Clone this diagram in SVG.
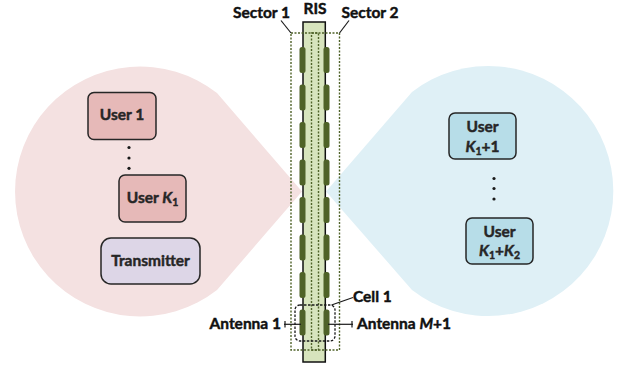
<svg xmlns="http://www.w3.org/2000/svg" width="621" height="366" viewBox="0 0 621 366">
<style>
  text { font-family: "Lato", "Open Sans", "Liberation Sans", sans-serif; font-weight: bold; font-size: 15.5px; fill: #111; stroke: #111; stroke-width: 0.45; }
  .box text { fill: #262626; stroke: #262626; text-anchor: middle; }
  .sub { font-size: 10.5px; }
  .it { font-style: italic; }
  .ubox { stroke: #262626; stroke-width: 1.5; }
  .sector { fill: none; stroke: #4f6228; stroke-width: 1.4; stroke-dasharray: 2 1.5; }
  .cell { fill: none; stroke: #1a1a1a; stroke-width: 1.3; stroke-dasharray: 2.5 1.5; }
  .elem { fill: #4f6228; }
  .lead { stroke: #1a1a1a; stroke-width: 1.2; fill: none; }
  .dot { fill: #1a1a1a; }
</style>

<g id="sector1-region">
  <path d="M 217 93 A 125 125 0 1 0 217 290 L 302 191.5 Z" fill="#f4e1e1"/>
</g>
<g id="sector2-region">
  <path d="M 412 92 A 125 125 0 1 1 412 290 L 326 191.5 Z" fill="#dff0f6"/>
</g>

<g id="ris">
  <rect x="303" y="22" width="22.3" height="340" fill="#d7e4bd" stroke="#111" stroke-width="1.5"/>
  <g id="elements-left">
    <rect class="elem" x="299.5" y="47" width="6" height="26" rx="2.5"/>
    <rect class="elem" x="299.5" y="84.5" width="6" height="26" rx="2.5"/>
    <rect class="elem" x="299.5" y="122" width="6" height="26" rx="2.5"/>
    <rect class="elem" x="299.5" y="159.5" width="6" height="26" rx="2.5"/>
    <rect class="elem" x="299.5" y="197" width="6" height="26" rx="2.5"/>
    <rect class="elem" x="299.5" y="234.5" width="6" height="26" rx="2.5"/>
    <rect class="elem" x="299.5" y="272" width="6" height="26" rx="2.5"/>
    <rect class="elem" x="299.5" y="309.5" width="6" height="26" rx="2.5"/>
  </g>
  <g id="elements-right">
    <rect class="elem" x="323.5" y="47" width="6" height="26" rx="2.5"/>
    <rect class="elem" x="323.5" y="84.5" width="6" height="26" rx="2.5"/>
    <rect class="elem" x="323.5" y="122" width="6" height="26" rx="2.5"/>
    <rect class="elem" x="323.5" y="159.5" width="6" height="26" rx="2.5"/>
    <rect class="elem" x="323.5" y="197" width="6" height="26" rx="2.5"/>
    <rect class="elem" x="323.5" y="234.5" width="6" height="26" rx="2.5"/>
    <rect class="elem" x="323.5" y="272" width="6" height="26" rx="2.5"/>
    <rect class="elem" x="323.5" y="309.5" width="6" height="26" rx="2.5"/>
  </g>
  <text x="315" y="14" text-anchor="middle">RIS</text>
</g>

<g id="sector1">
  <rect class="sector" x="291" y="33" width="27.5" height="317"/>
  <text x="261.5" y="18" text-anchor="middle">Sector 1</text>
</g>
<g id="sector2">
  <rect class="sector" x="311.5" y="33" width="28" height="317"/>
  <text x="370" y="18" text-anchor="middle">Sector 2</text>
</g>

<g id="cell1">
  <rect class="cell" x="295" y="305" width="40" height="36" rx="5"/>
  <text x="353" y="301.5">Cell 1</text>
</g>

<g id="antenna1">
  <text x="281" y="329" text-anchor="end">Antenna 1</text>
</g>
<g id="antennaM1">
  <text x="357" y="329">Antenna <tspan class="it">M</tspan>+1</text>
</g>

<g id="connectors">
  <line class="lead" x1="281" y1="20.5" x2="291" y2="33"/>
  <line class="lead" x1="349" y1="20.5" x2="339.5" y2="33"/>
  <line class="lead" x1="331.5" y1="305" x2="353" y2="297.5"/>
  <line class="lead" x1="284" y1="324.3" x2="301" y2="324.3"/>
  <line class="lead" x1="285" y1="321" x2="285" y2="327.5"/>
  <line class="lead" x1="328" y1="324.3" x2="353" y2="324.3"/>
  <line class="lead" x1="352" y1="321" x2="352" y2="327.5"/>
</g>

<g id="user1" class="box">
  <rect class="ubox" x="88" y="92.5" width="68" height="47" rx="6" fill="#e6b9b8"/>
  <text x="122" y="120">User 1</text>
</g>
<g id="dots-left">
  <circle class="dot" cx="129" cy="147.5" r="1.6"/>
  <circle class="dot" cx="129" cy="158" r="1.6"/>
  <circle class="dot" cx="129" cy="168.3" r="1.6"/>
</g>
<g id="userK1" class="box">
  <rect class="ubox" x="119" y="175" width="67" height="47" rx="6" fill="#e6b9b8"/>
  <text x="152.5" y="203">User <tspan class="it">K</tspan><tspan class="sub" dy="3">1</tspan></text>
</g>
<g id="transmitter" class="box">
  <rect class="ubox" x="101" y="238" width="99" height="46" rx="10" fill="#ddd6e7"/>
  <text x="150.5" y="266">Transmitter</text>
</g>

<g id="userK1p1" class="box">
  <rect class="ubox" x="449" y="113" width="67" height="46" rx="6" fill="#b7dde8"/>
  <text x="482.5" y="132">User</text>
  <text x="482.5" y="151.5"><tspan class="it">K</tspan><tspan class="sub" dy="3">1</tspan><tspan dy="-3">+1</tspan></text>
</g>
<g id="dots-right">
  <circle class="dot" cx="494" cy="178.5" r="1.6"/>
  <circle class="dot" cx="494" cy="188.5" r="1.6"/>
  <circle class="dot" cx="494" cy="199" r="1.6"/>
</g>
<g id="userK1pK2" class="box">
  <rect class="ubox" x="466" y="218" width="67" height="46" rx="6" fill="#b7dde8"/>
  <text x="499.5" y="237">User</text>
  <text x="499.5" y="256"><tspan class="it">K</tspan><tspan class="sub" dy="3">1</tspan><tspan dy="-3">+</tspan><tspan class="it">K</tspan><tspan class="sub" dy="3">2</tspan></text>
</g>
</svg>
